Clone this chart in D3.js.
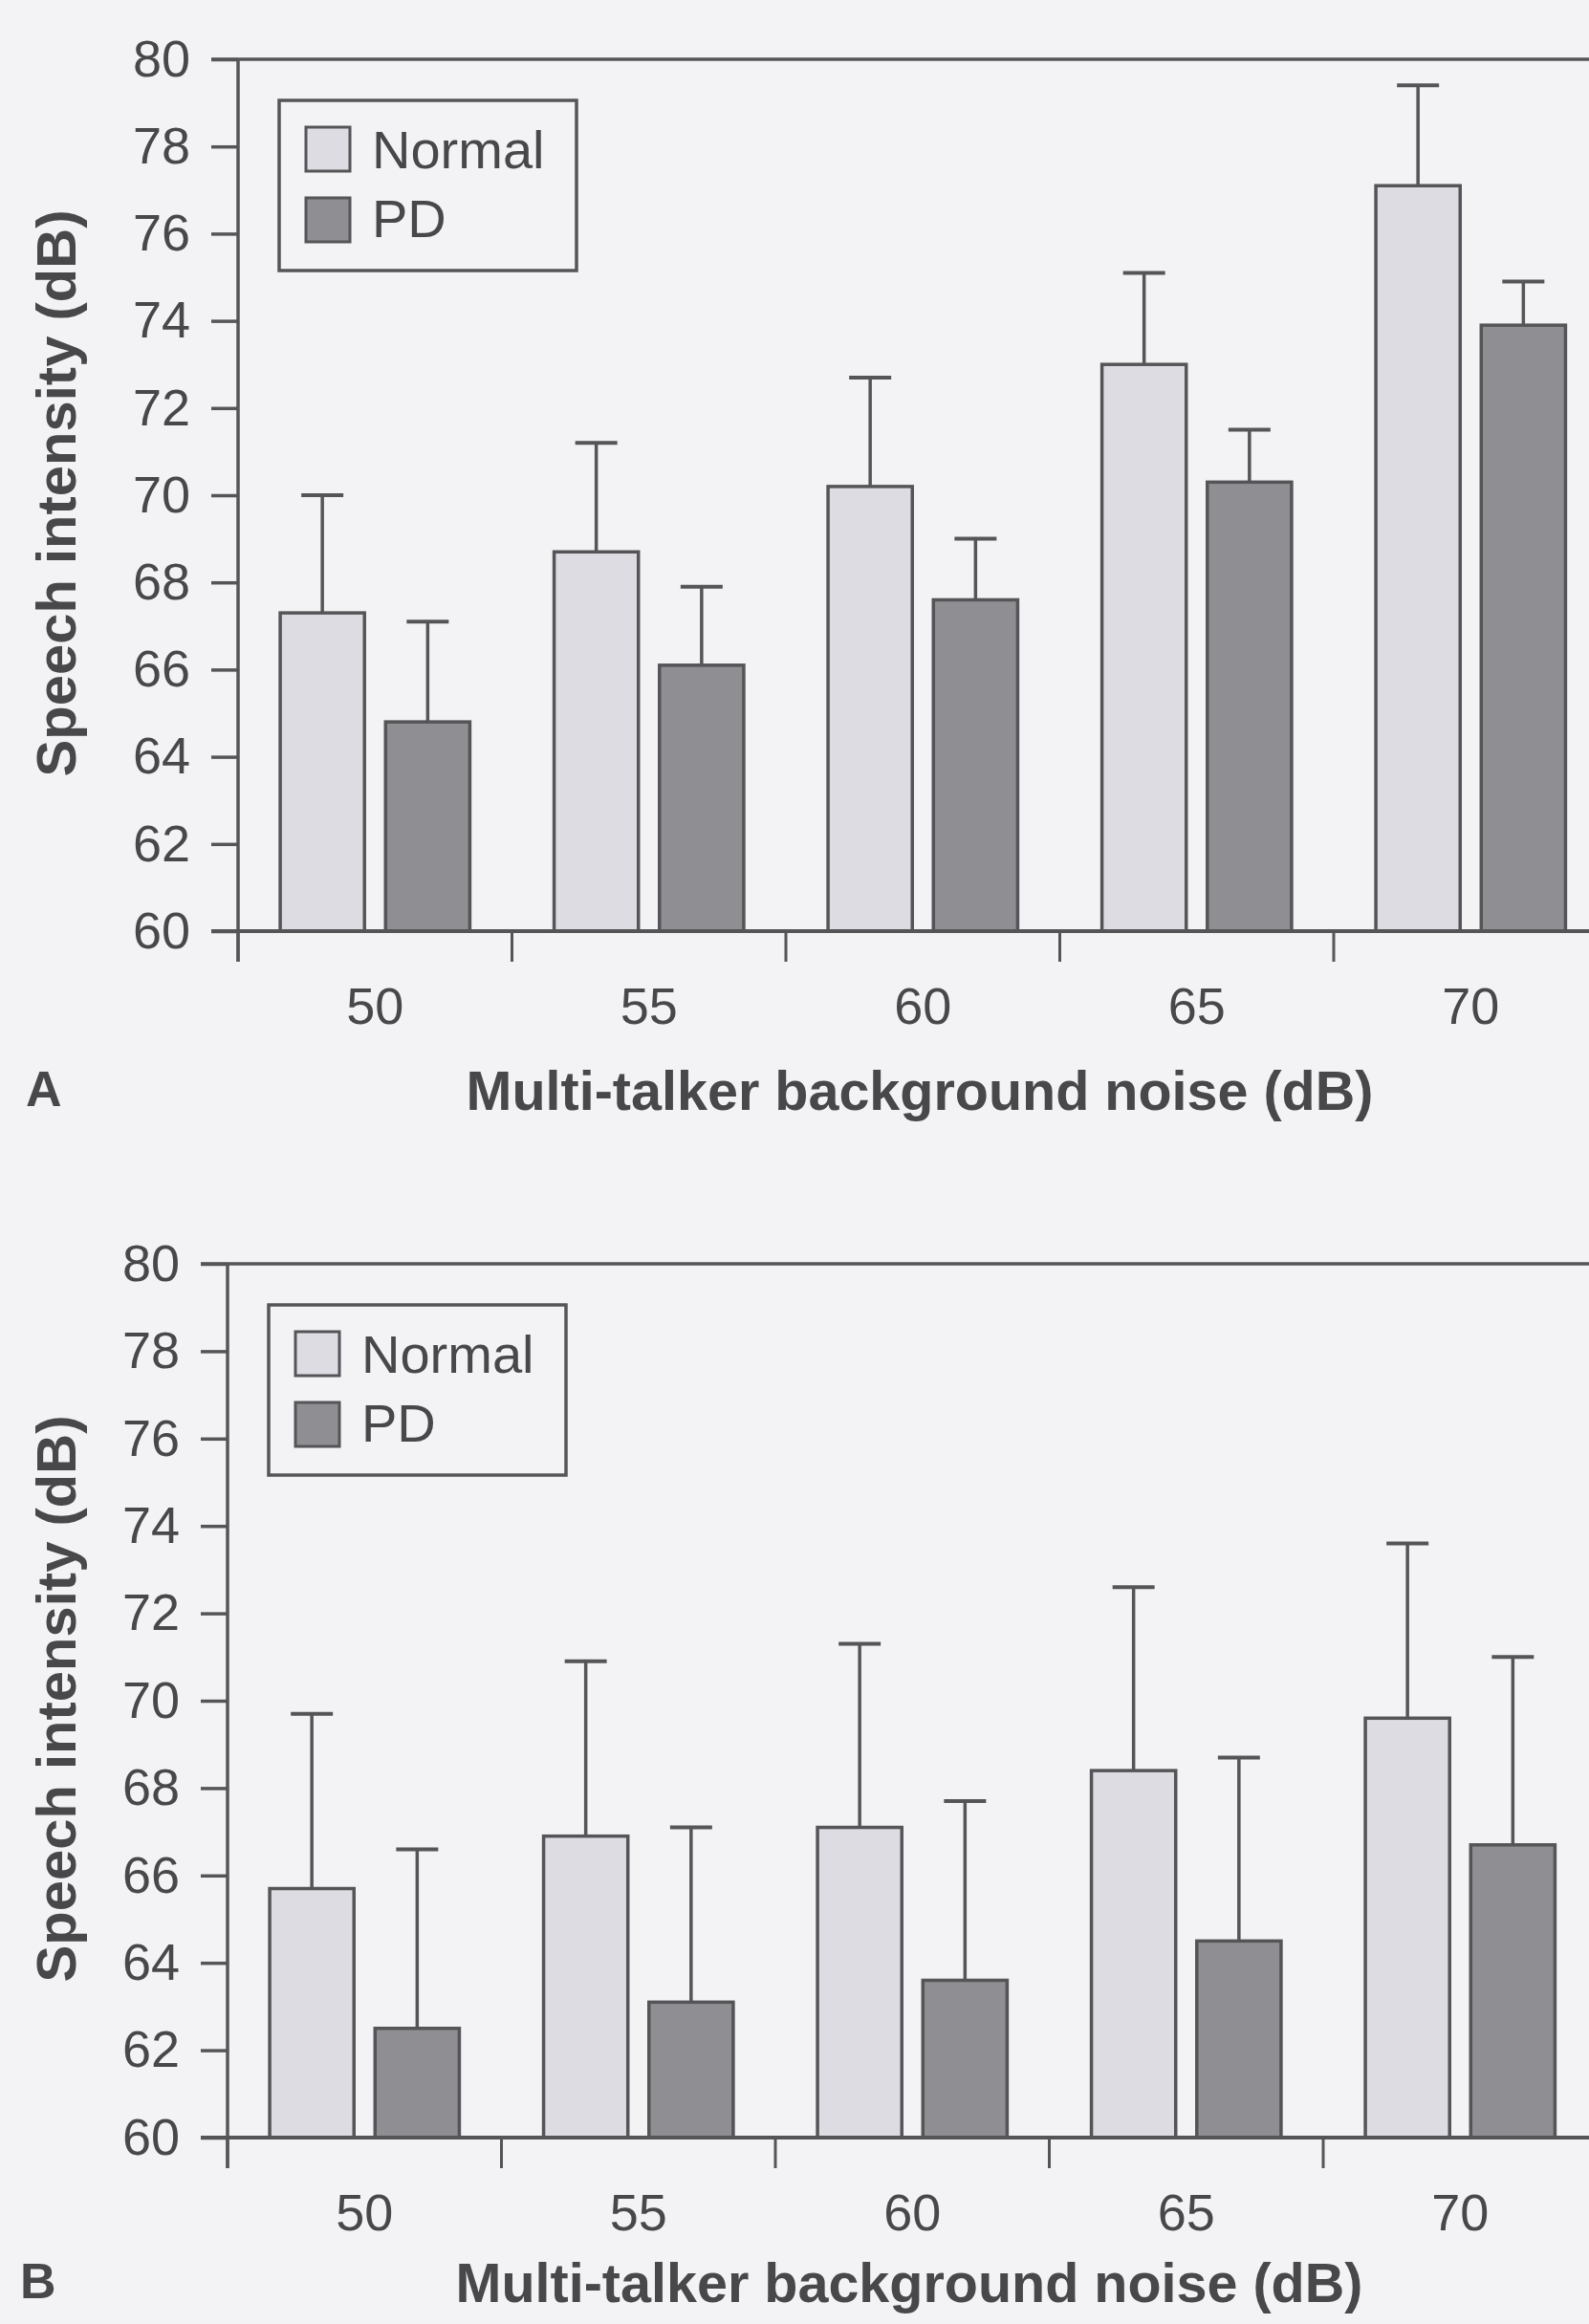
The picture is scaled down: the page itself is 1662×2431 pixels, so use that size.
<!DOCTYPE html>
<html>
<head>
<meta charset="utf-8">
<script src="https://cdn.jsdelivr.net/npm/d3@7"></script>
<style>
  body { margin: 0; background: #f3f3f6; }
  svg { display: block; }
  text { font-family: "Liberation Sans", Arial, Helvetica, sans-serif; }
</style>
</head>
<body>
<div id="chart"></div>
<script>
// categories
const noiseLevels = ["50", "55", "60", "65", "70"];
const groups = ["Normal", "PD"];
const yTicks = [60, 62, 64, 66, 68, 70, 72, 74, 76, 78, 80];

// panel A: mean speech intensity and upper error (dB)
const normalA = [67.3, 68.7, 70.2, 73.0, 77.1];
const normalErrA = [2.7, 2.5, 2.5, 2.1, 2.3];
const pdA = [64.8, 66.1, 67.6, 70.3, 73.9];
const pdErrA = [2.3, 1.8, 1.4, 1.2, 1.0];

// panel B
const normalB = [65.7, 66.9, 67.1, 68.4, 69.6];
const normalErrB = [4.0, 4.0, 4.2, 4.2, 4.0];
const pdB = [62.5, 63.1, 63.6, 64.5, 66.7];
const pdErrB = [4.1, 4.0, 4.1, 4.2, 4.3];

const W = 1662, H = 2431;
const ink = "#555558";
const textInk = "#48484b";
const fills = { Normal: "#dcdce2", PD: "#8e8e93" };

const svg = d3.select("#chart").append("svg")
    .attr("width", W)
    .attr("height", H);

svg.append("rect").attr("width", W).attr("height", H).attr("fill", "#f3f3f6");

function renderPanel(cfg) {
    const g = svg.append("g");
    const step = 286.5;

    const y = d3.scaleLinear().domain([60, 80]).range([cfg.bottom, cfg.top]);
    const x0 = d3.scaleBand().domain(noiseLevels).range([cfg.left, cfg.left + step * noiseLevels.length]);
    const x1 = d3.scaleBand().domain(groups).range([0, x0.bandwidth()])
        .paddingInner(0.2).paddingOuter(0.4);

    const rows = noiseLevels.map((lvl, i) => ({
        level: lvl,
        values: [
            { group: "Normal", mean: cfg.normal[i], err: cfg.normalErr[i] },
            { group: "PD", mean: cfg.pd[i], err: cfg.pdErr[i] }
        ]
    }));

    // frame line at the top
    g.append("line")
        .attr("x1", cfg.left - 28).attr("x2", W + 40)
        .attr("y1", y(80)).attr("y2", y(80))
        .attr("stroke", ink).attr("stroke-width", 3.5);

    // y axis
    const yAxis = g.append("g")
        .attr("transform", `translate(${cfg.left},0)`)
        .call(d3.axisLeft(y).tickValues(yTicks).tickSize(28).tickPadding(22).tickSizeOuter(0));
    yAxis.select(".domain").remove();
    yAxis.selectAll(".tick line").attr("stroke", ink).attr("stroke-width", 3.5);
    yAxis.selectAll(".tick text")
        .attr("font-size", 54)
        .attr("fill", textInk)
        .attr("font-family", "Liberation Sans, Arial, sans-serif");

    g.append("line")
        .attr("x1", cfg.left).attr("x2", cfg.left)
        .attr("y1", y(80)).attr("y2", y(60) + 32)
        .attr("stroke", ink).attr("stroke-width", 3.5);

    // bars
    const grp = g.selectAll(".grp")
        .data(rows)
        .join("g")
        .attr("class", "grp")
        .attr("transform", d => `translate(${x0(d.level)},0)`);

    grp.selectAll("rect")
        .data(d => d.values)
        .join("rect")
        .attr("x", d => x1(d.group))
        .attr("y", d => y(d.mean))
        .attr("width", x1.bandwidth())
        .attr("height", d => y(60) - y(d.mean))
        .attr("fill", d => fills[d.group])
        .attr("stroke", ink)
        .attr("stroke-width", 3.5);

    // error bars (upper only)
    grp.selectAll(".err")
        .data(d => d.values)
        .join("line")
        .attr("class", "err")
        .attr("x1", d => x1(d.group) + x1.bandwidth() / 2)
        .attr("x2", d => x1(d.group) + x1.bandwidth() / 2)
        .attr("y1", d => y(d.mean))
        .attr("y2", d => y(d.mean + d.err))
        .attr("stroke", ink).attr("stroke-width", 3.5);

    grp.selectAll(".cap")
        .data(d => d.values)
        .join("line")
        .attr("class", "cap")
        .attr("x1", d => x1(d.group) + x1.bandwidth() / 2 - 22)
        .attr("x2", d => x1(d.group) + x1.bandwidth() / 2 + 22)
        .attr("y1", d => y(d.mean + d.err))
        .attr("y2", d => y(d.mean + d.err))
        .attr("stroke", ink).attr("stroke-width", 4);

    // x axis
    g.append("line")
        .attr("x1", cfg.left - 28).attr("x2", W + 40)
        .attr("y1", y(60)).attr("y2", y(60))
        .attr("stroke", ink).attr("stroke-width", 4);

    g.selectAll(".xtick")
        .data(noiseLevels)
        .join("line")
        .attr("class", "xtick")
        .attr("x1", d => x0(d)).attr("x2", d => x0(d))
        .attr("y1", y(60)).attr("y2", y(60) + 32)
        .attr("stroke", ink).attr("stroke-width", 3);

    g.selectAll(".xlabel")
        .data(noiseLevels)
        .join("text")
        .attr("class", "xlabel")
        .attr("x", d => x0(d) + x0.bandwidth() / 2)
        .attr("y", y(60) + 97)
        .attr("text-anchor", "middle")
        .attr("font-size", 54)
        .attr("fill", textInk)
        .text(d => d);

    g.append("text")
        .attr("x", cfg.left + 713)
        .attr("y", y(60) + cfg.titleDy)
        .attr("text-anchor", "middle")
        .attr("font-size", 57.5)
        .attr("font-weight", "bold")
        .attr("fill", textInk)
        .text("Multi-talker background noise (dB)");

    g.append("text")
        .attr("x", cfg.labelX)
        .attr("y", y(60) + cfg.titleDy - 4)
        .attr("font-size", 52)
        .attr("font-weight", "bold")
        .attr("fill", textInk)
        .text(cfg.label);

    g.append("text")
        .attr("transform", `translate(79,${(y(60) + y(80)) / 2 - 2}) rotate(-90)`)
        .attr("text-anchor", "middle")
        .attr("font-size", 58)
        .attr("font-weight", "bold")
        .attr("fill", textInk)
        .text("Speech intensity (dB)");

    // legend
    const lg = g.append("g").attr("transform", `translate(${cfg.left + 43},${y(80) + 43})`);
    lg.append("rect")
        .attr("width", 311).attr("height", 178)
        .attr("fill", "none").attr("stroke", ink).attr("stroke-width", 3.5);
    groups.forEach((grpName, i) => {
        lg.append("rect")
            .attr("x", 28).attr("y", 28 + i * 74)
            .attr("width", 46).attr("height", 46)
            .attr("fill", fills[grpName])
            .attr("stroke", ink).attr("stroke-width", 3);
        lg.append("text")
            .attr("x", 97).attr("y", 71 + i * 72)
            .attr("font-size", 56)
            .attr("fill", textInk)
            .text(grpName);
    });
}

renderPanel({ left: 249, top: 62, bottom: 974, label: "A", labelX: 27, titleDy: 187,
    normal: normalA, normalErr: normalErrA, pd: pdA, pdErr: pdErrA });
renderPanel({ left: 238, top: 1322, bottom: 2236, label: "B", labelX: 21, titleDy: 172,
    normal: normalB, normalErr: normalErrB, pd: pdB, pdErr: pdErrB });
</script>
</body>
</html>
